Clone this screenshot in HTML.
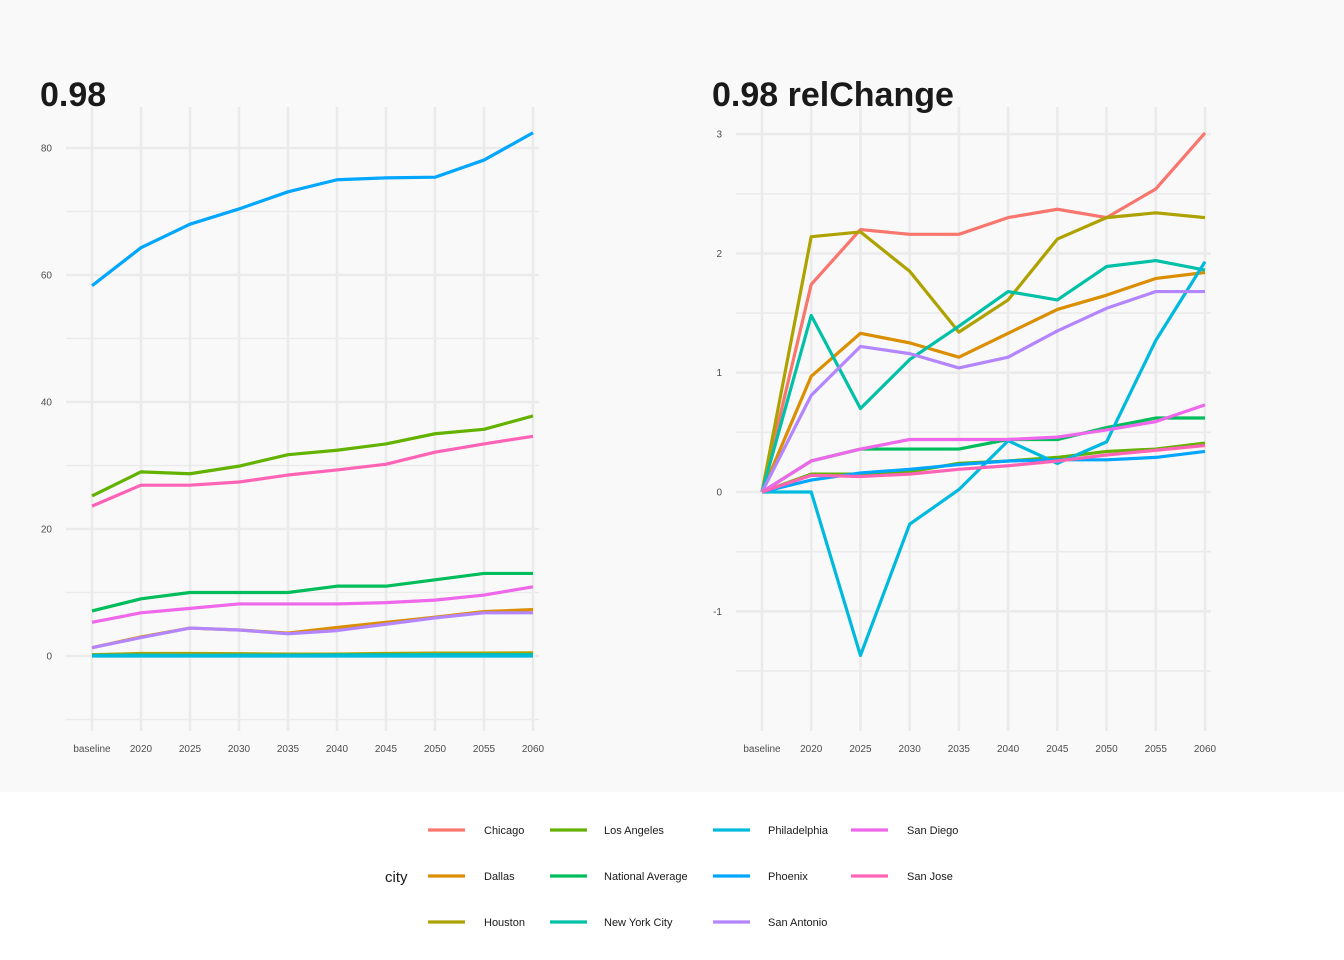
<!DOCTYPE html>
<html><head><meta charset="utf-8"><style>
body{margin:0;background:#fff;font-family:"Liberation Sans",sans-serif}
svg{display:block}
</style></head><body>
<svg id="c" width="1344" height="960" xmlns="http://www.w3.org/2000/svg">
<rect x="0" y="0" width="1344" height="792" fill="#f9f9f9"/>
<text x="40" y="106" font-size="34" font-weight="bold" fill="#1a1a1a">0.98</text>
<text x="712" y="106" font-size="34" font-weight="bold" fill="#1a1a1a">0.98 relChange</text>
<text x="385" y="882" font-size="15" fill="#1a1a1a">city</text>
</svg>
<script>
const categories=["baseline","2020","2025","2030","2035","2040","2045","2050","2055","2060"];
const cities=["Chicago","Dallas","Houston","Los Angeles","National Average","New York City","Philadelphia","Phoenix","San Antonio","San Diego","San Jose"];
const colors=["#F8766D","#DB8E00","#AEA200","#64B200","#00BD5C","#00C1A7","#00BADE","#00A6FF","#B385FF","#EF67EB","#FF63B6"];
const absChicago=[0.1,0.15,0.15,0.15,0.15,0.15,0.2,0.2,0.2,0.25];
const absDallas=[1.3,3,4.4,4.1,3.6,4.5,5.3,6.1,7,7.3];
const absHouston=[0.2,0.4,0.4,0.35,0.3,0.3,0.4,0.45,0.45,0.5];
const absLA=[25.2,29,28.7,29.9,31.7,32.4,33.4,35,35.7,37.8];
const absNational=[7.1,9,10,10,10,11,11,12,13,13];
const absNYC=[0.1,0.15,0.12,0.14,0.15,0.18,0.2,0.22,0.22,0.22];
const absPhiladelphia=[0,0,0,0,0,0,0,0,0,0];
const absPhoenix=[58.3,64.3,68,70.4,73.1,75,75.3,75.4,78.1,82.4];
const absSanAntonio=[1.3,2.9,4.4,4.1,3.5,4,5,6,6.8,6.8];
const absSanDiego=[5.3,6.8,7.5,8.2,8.2,8.2,8.4,8.8,9.6,10.9];
const absSanJose=[23.6,26.9,26.9,27.4,28.5,29.3,30.2,32.1,33.4,34.6];
const relChicago=[0,1.74,2.2,2.16,2.16,2.3,2.37,2.3,2.54,3.01];
const relDallas=[0,0.97,1.33,1.25,1.13,1.33,1.53,1.65,1.79,1.84];
const relHouston=[0,2.14,2.18,1.85,1.34,1.61,2.12,2.3,2.34,2.3];
const relLA=[0,0.15,0.15,0.17,0.24,0.26,0.29,0.34,0.36,0.41];
const relNational=[0,0.26,0.36,0.36,0.36,0.44,0.44,0.54,0.62,0.62];
const relNYC=[0,1.48,0.7,1.11,1.39,1.68,1.61,1.89,1.94,1.86];
const relPhiladelphia=[0,0,-1.37,-0.27,0.02,0.43,0.24,0.42,1.27,1.93];
const relPhoenix=[0,0.1,0.16,0.19,0.23,0.26,0.27,0.27,0.29,0.34];
const relSanAntonio=[0,0.81,1.22,1.16,1.04,1.13,1.35,1.54,1.68,1.68];
const relSanDiego=[0,0.26,0.36,0.44,0.44,0.44,0.46,0.52,0.59,0.73];
const relSanJose=[0,0.14,0.13,0.15,0.19,0.22,0.26,0.31,0.35,0.39];
const leftTicks=[0,20,40,60,80];
const leftMinor=[-10,10,30,50,70];
const rightTicks=[-1,0,1,2,3];
const rightMinor=[-1.5,-0.5,0.5,1.5,2.5];

const absSeries=[absChicago,absDallas,absHouston,absLA,absNational,absNYC,absPhiladelphia,absPhoenix,absSanAntonio,absSanDiego,absSanJose];
const relSeries=[relChicago,relDallas,relHouston,relLA,relNational,relNYC,relPhiladelphia,relPhoenix,relSanAntonio,relSanDiego,relSanJose];
const svg=document.getElementById('c');
const NS="http://www.w3.org/2000/svg";
function mk(t,a){const e=document.createElementNS(NS,t);for(const k in a)e.setAttribute(k,a[k]);svg.appendChild(e);return e;}
function panel(name,x0,x1,yAt,ticks,minor,series,tickLabel,order){
  const xs=i=>x0+(x1-x0)*i/(categories.length-1);
  minor.forEach(v=>{const l=mk('line',{x1:65,x2:x1+6,y1:yAt(v),y2:yAt(v),stroke:'#ebebeb','stroke-width':1.6});
    
    l.setAttribute('x1',x0-26);});
  ticks.forEach(v=>{const l=mk('line',{x1:x0-26,x2:x1+6,y1:yAt(v),y2:yAt(v),stroke:'#ebebeb','stroke-width':2.6});
    
    const t=mk('text',{x:x0-40,y:yAt(v)+3.5,'font-size':10,fill:'#4d4d4d','text-anchor':'end'});t.textContent=tickLabel(v);
    });
  categories.forEach((c,i)=>{const l=mk('line',{x1:xs(i),x2:xs(i),y1:107,y2:731,stroke:'#ebebeb','stroke-width':2.6});
    
    const t=mk('text',{x:xs(i),y:752,'font-size':10,fill:'#4d4d4d','text-anchor':'middle'});t.textContent=c;
    });
  order.forEach(k=>{const s=series[k];
    const p=mk('polyline',{points:s.map((v,i)=>xs(i)+','+yAt(v)).join(' '),fill:'none',stroke:colors[k],'stroke-width':3.2,'stroke-linejoin':'round'});
    
    });
}
const order=[0,1,2,3,4,5,6,7,8,9,10];
panel('left',92,533,v=>656-v*6.35,leftTicks,leftMinor,absSeries,v=>String(v),order);
panel('right',762,1205,v=>492-v*119.3,rightTicks,rightMinor,relSeries,v=>String(v),order);
// legend
const colX=[428,550,713,851],labX=[484,604,768,907],rowY=[830,876,922];
cities.forEach((c,i)=>{const col=Math.floor(i/3),row=i%3;
  const l=mk('line',{x1:colX[col],x2:colX[col]+37,y1:rowY[row],y2:rowY[row],stroke:colors[i],'stroke-width':3.2});
  
  const t=mk('text',{x:labX[col],y:rowY[row]+4,'font-size':11,fill:'#1a1a1a'});t.textContent=c;
  });
</script>
</body></html>
